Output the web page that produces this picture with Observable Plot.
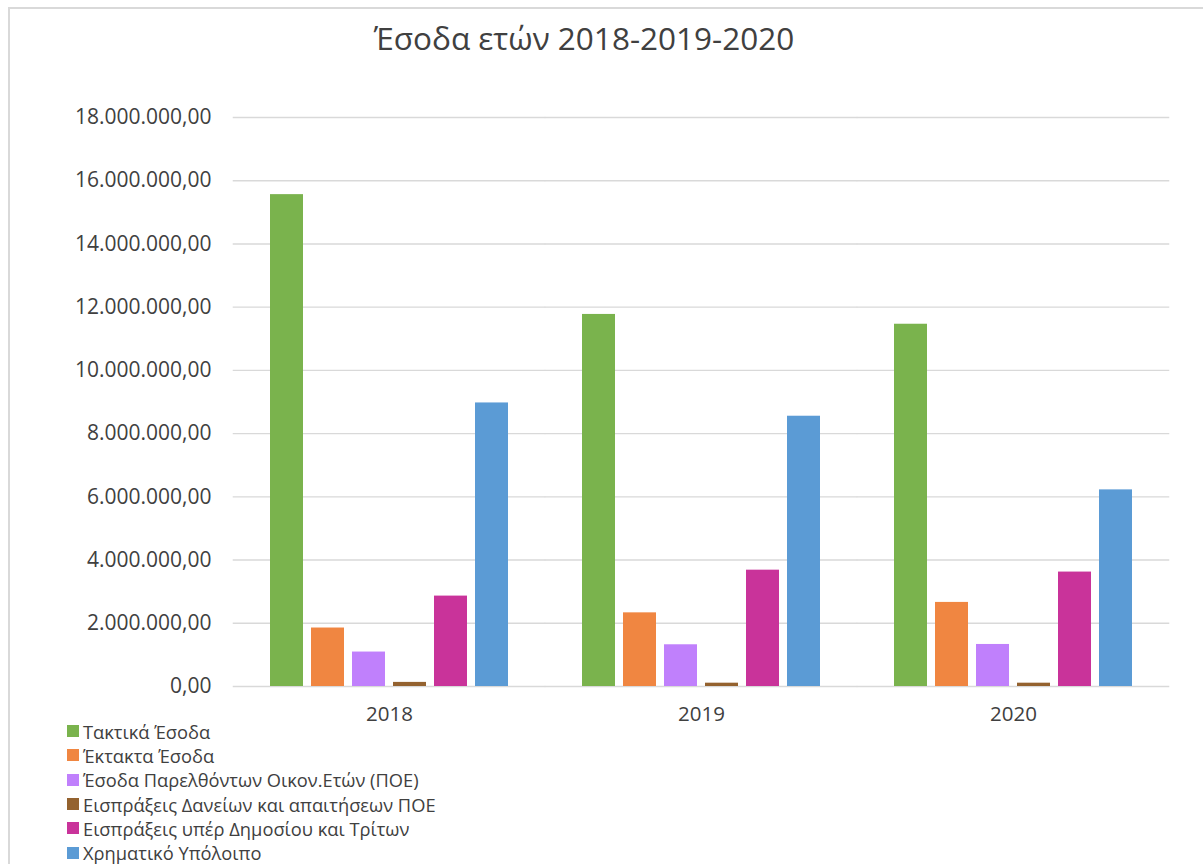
<!DOCTYPE html>
<html><head><meta charset="utf-8">
<script src="https://cdn.jsdelivr.net/npm/d3@7"></script>
<script src="https://cdn.jsdelivr.net/npm/@observablehq/plot@0.6"></script>
<style>
body{margin:0;background:#fff;font-family:"Open Sans",sans-serif;}
#wrap{position:relative;width:1203px;height:864px;overflow:hidden;background:#fff;}
#border{position:absolute;left:8px;top:7px;width:1400px;height:1200px;border:2px solid #d9d9d9;box-sizing:border-box;}
#title{position:absolute;top:22px;left:584px;transform:translateX(-50%);white-space:nowrap;font-size:31.5px;line-height:1;color:#404040;}
#chart{position:absolute;left:0;top:0;}
#legend{position:absolute;left:67px;top:719px;}
.item{display:flex;align-items:center;height:24.3px;font-size:18.3px;color:#404040;white-space:nowrap;}
.sw{width:12px;height:12px;margin-right:4px;flex:none;}
</style>
</head><body>
<div id="wrap">
<div id="border"></div>
<div id="chart"></div>
<div id="title">Έσοδα ετών 2018-2019-2020</div>
<div id="legend"></div>
</div>
<script>
const years = ["2018", "2019", "2020"];
const series = [
  "Τακτικά Έσοδα",
  "Έκτακτα Έσοδα",
  "Έσοδα Παρελθόντων Οικον.Ετών (ΠΟΕ)",
  "Εισπράξεις Δανείων και απαιτήσεων ΠΟΕ",
  "Εισπράξεις υπέρ Δημοσίου και Τρίτων",
  "Χρηματικό Υπόλοιπο"
];
const colors = ["#7ab34d", "#f08641", "#c080fc", "#94622f", "#c9339a", "#5b9bd5"];
const taktika   = [15560000, 11770000, 11460000];
const ektakta   = [1850000, 2330000, 2660000];
const poe       = [1090000, 1320000, 1330000];
const daneia    = [130000, 105000, 105000];
const yper      = [2860000, 3680000, 3620000];
const ypoloipo  = [8970000, 8550000, 6220000];
const yTicks = [0, 2e6, 4e6, 6e6, 8e6, 10e6, 12e6, 14e6, 16e6, 18e6];

const seriesValues = [taktika, ektakta, poe, daneia, yper, ypoloipo];
const data = [];
years.forEach((yr, i) => series.forEach((s, j) => data.push({year: yr, series: s, value: seriesValues[j][i]})));

const loc = d3.formatLocale({decimal: ",", thousands: ".", grouping: [3], currency: ["", "€"]});
const fmt = loc.format(",.2f");

const W = 1203, ML = 232, MR = 33;
const fxPadIn = 0.2, fxPadOut = 0.1;
const fxStep = (W - ML - MR) / (years.length - fxPadIn + 2 * fxPadOut);
const halfGap = fxStep * fxPadIn / 2; // grid lines bridge the gaps between facets

const chart = Plot.plot({
  width: W,
  height: 740,
  marginLeft: ML,
  marginRight: MR,
  marginTop: 117,
  marginBottom: 54,
  style: {fontFamily: "Open Sans", fontSize: "18px", color: "#404040", background: "transparent"},
  y: {domain: [0, 18e6], label: null},
  x: {domain: series, axis: null, paddingInner: 0.2, paddingOuter: 0.1},
  fx: {domain: years, paddingInner: fxPadIn, paddingOuter: fxPadOut, label: null},
  color: {domain: series, range: colors},
  marks: [
    Plot.ruleY(yTicks, {y: d => d, stroke: "#d9d9d9", strokeWidth: 1.4, strokeOpacity: 1, insetLeft: -halfGap, insetRight: -halfGap}),
    Plot.barY(data, {fx: "year", x: "series", y: "value", fill: "series"}),
    Plot.axisY({ticks: yTicks, tickFormat: fmt, tickSize: 0, tickPadding: 53, label: null, fontSize: 21}),
    Plot.axisFx({anchor: "bottom", tickSize: 0, tickPadding: 20, label: null, fontSize: 20.5})
  ]
});
document.getElementById("chart").appendChild(chart);

const leg = document.getElementById("legend");
series.forEach((s, j) => {
  const it = document.createElement("div");
  it.className = "item";
  const sw = document.createElement("span");
  sw.className = "sw";
  sw.style.background = colors[j];
  const tx = document.createElement("span");
  tx.textContent = s;
  it.appendChild(sw); it.appendChild(tx);
  leg.appendChild(it);
});
</script>
</body></html>
